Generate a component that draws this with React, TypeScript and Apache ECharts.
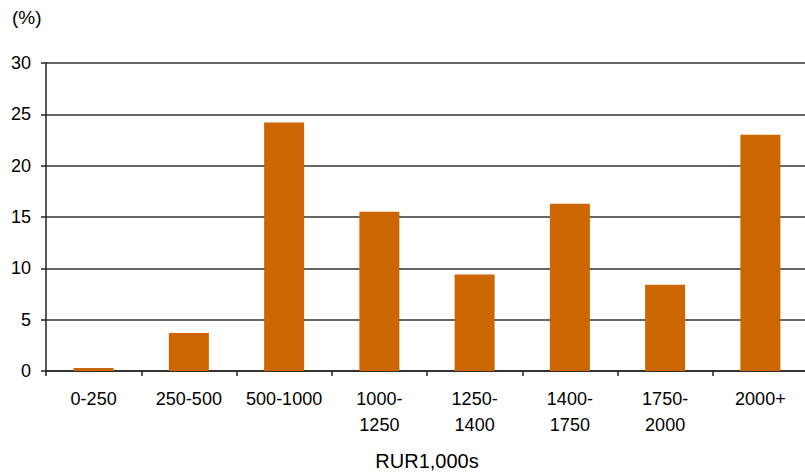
import React, { useEffect, useRef } from "react";
import * as echarts from "echarts";

// Income bands, thousand roubles
const categories = [
  "0-250",
  "250-500",
  "500-1000",
  "1000-\n1250",
  "1250-\n1400",
  "1400-\n1750",
  "1750-\n2000",
  "2000+",
];

// Share of respondents in each band, %
const shares = [0.3, 3.7, 24.2, 15.5, 9.4, 16.3, 8.4, 23.0];

const yTicks = { min: 0, max: 30, interval: 5 };

const FONT = "'Liberation Sans', Arial, sans-serif";

export default function App() {
  const ref = useRef<HTMLDivElement>(null);

  useEffect(() => {
    if (!ref.current) return;
    const chart = echarts.init(ref.current, null, { renderer: "svg" });
    chart.setOption({
      animation: false,
      backgroundColor: "#ffffff",
      grid: {
        left: 46,
        top: 63,
        width: 762,
        bottom: 101,
        containLabel: false,
        outerBoundsMode: "none",
      },
      graphic: [
        {
          type: "text",
          left: 12,
          top: 8,
          style: { text: "(%)", fontSize: 19, fontFamily: FONT, fill: "#000" },
        },
      ],
      xAxis: {
        type: "category",
        data: categories,
        name: "RUR1,000s",
        nameLocation: "middle",
        nameGap: 80,
        nameTextStyle: { fontSize: 20, lineHeight: 20, fontFamily: FONT, color: "#000" },
        axisLine: { show: true, lineStyle: { color: "#222", width: 1.5 } },
        axisTick: { show: true, alignWithLabel: false, length: 5, lineStyle: { color: "#222", width: 1.5 } },
        axisLabel: {
          fontSize: 18,
          fontFamily: FONT,
          color: "#000",
          margin: 15,
          lineHeight: 26,
          interval: 0,
        },
      },
      yAxis: {
        type: "value",
        min: yTicks.min,
        max: yTicks.max,
        interval: yTicks.interval,
        axisLine: { show: true, lineStyle: { color: "#222", width: 1.5 } },
        axisTick: { show: true, length: 5, lineStyle: { color: "#222", width: 1.5 } },
        axisLabel: { fontSize: 18, fontFamily: FONT, color: "#000", margin: 15 },
        splitLine: { show: true, lineStyle: { color: "#333", width: 1.5 } },
      },
      series: [
        {
          type: "bar",
          data: shares,
          barWidth: 40,
          itemStyle: { color: "#CC6600" },
        },
      ],
    });
    return () => chart.dispose();
  }, []);

  return (
    <div
      ref={ref}
      style={{ position: "absolute", left: 0, top: 0, width: 805, height: 472 }}
    />
  );
}
